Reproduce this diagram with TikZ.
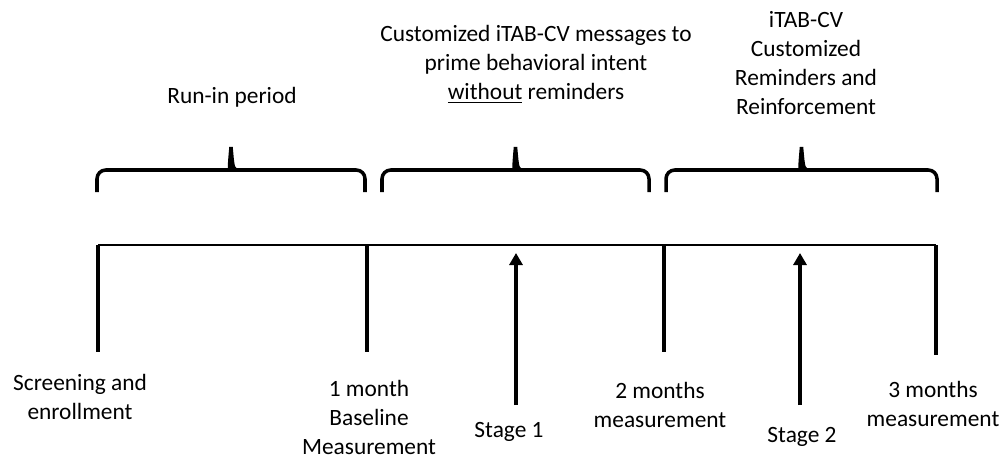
\documentclass[tikz,border=0pt]{standalone}
\usepackage{fontspec}
\setmainfont{Carlito}
\usepackage{tikz}
\usetikzlibrary{arrows.meta}

% curly bracket over one period of the timeline
\newcommand{\periodbrace}[2]{%
    \pgfmathsetmacro{\bmid}{(#1+#2)/2}
    \draw[bracket] (#1,192) [rounded corners=5pt] -- (#1,170) -- (\bmid-8,170)
        [sharp corners] .. controls (\bmid-2,170) .. (\bmid,147)
        .. controls (\bmid+2,170) .. (\bmid+8,170)
        [rounded corners=5pt] -- (#2,170) -- (#2,192);
}

\begin{document}
\begin{tikzpicture}[
    x=0.02cm, y=-0.02cm,
    font=\fontsize{13.3}{16.5}\selectfont,
    timeline/.style={line width=0.8pt},
    tick/.style={line width=2.2pt},
    bracket/.style={line width=2pt},
    stagearrow/.style={
        line width=2.4pt,
        -{Triangle[length=2.4mm, width=2.6mm]}
    },
    label/.style={
        align=center,
        inner sep=1pt
    }
]

\useasboundingbox (0,0) rectangle (1003,456);

% ==================== Period labels ====================
\node[label] (runin)  at (232,97) {Run-in period};
\node[label] (msg)    at (536,64) {Customized iTAB-CV messages to\\prime behavioral intent\\\underline{without} reminders};
\node[label] (remind) at (806,63) {iTAB-CV\\Customized\\Reminders and\\Reinforcement};

\periodbrace{97}{365}
\periodbrace{382}{649}
\periodbrace{666}{937}

% ==================== Timeline ====================
\coordinate (p0) at (98,245);
\coordinate (p1) at (367,245);
\coordinate (p2) at (664,245);
\coordinate (p3) at (936,245);

\coordinate (q0) at (98,352);
\coordinate (q1) at (367,352);
\coordinate (q2) at (664,352);
\coordinate (q3) at (936,355);

\draw[timeline] (p0) -- (p3);

\draw[tick] (p0) -- (q0);
\draw[tick] (p1) -- (q1);
\draw[tick] (p2) -- (q2);
\draw[tick] (p3) -- (q3);

% ==================== Time points ====================
\node[label] (screen) at (80,397)  {Screening and\\enrollment};
\node[label] (base)   at (369,417) {1 month\\Baseline\\Measurement};
\node[label] (m2)     at (660,405) {2 months\\measurement};
\node[label] (m3)     at (933,404) {3 months\\measurement};

\node[label] (st1) at (509,432) {Stage 1};
\node[label] (st2) at (802,437) {Stage 2};

\coordinate (s1top) at (516,253);
\coordinate (s1bot) at (516,405);
\coordinate (s2top) at (800,253);
\coordinate (s2bot) at (800,405);

\draw[stagearrow] (s1bot) -- (s1top);
\draw[stagearrow] (s2bot) -- (s2top);

\end{tikzpicture}
\end{document}
